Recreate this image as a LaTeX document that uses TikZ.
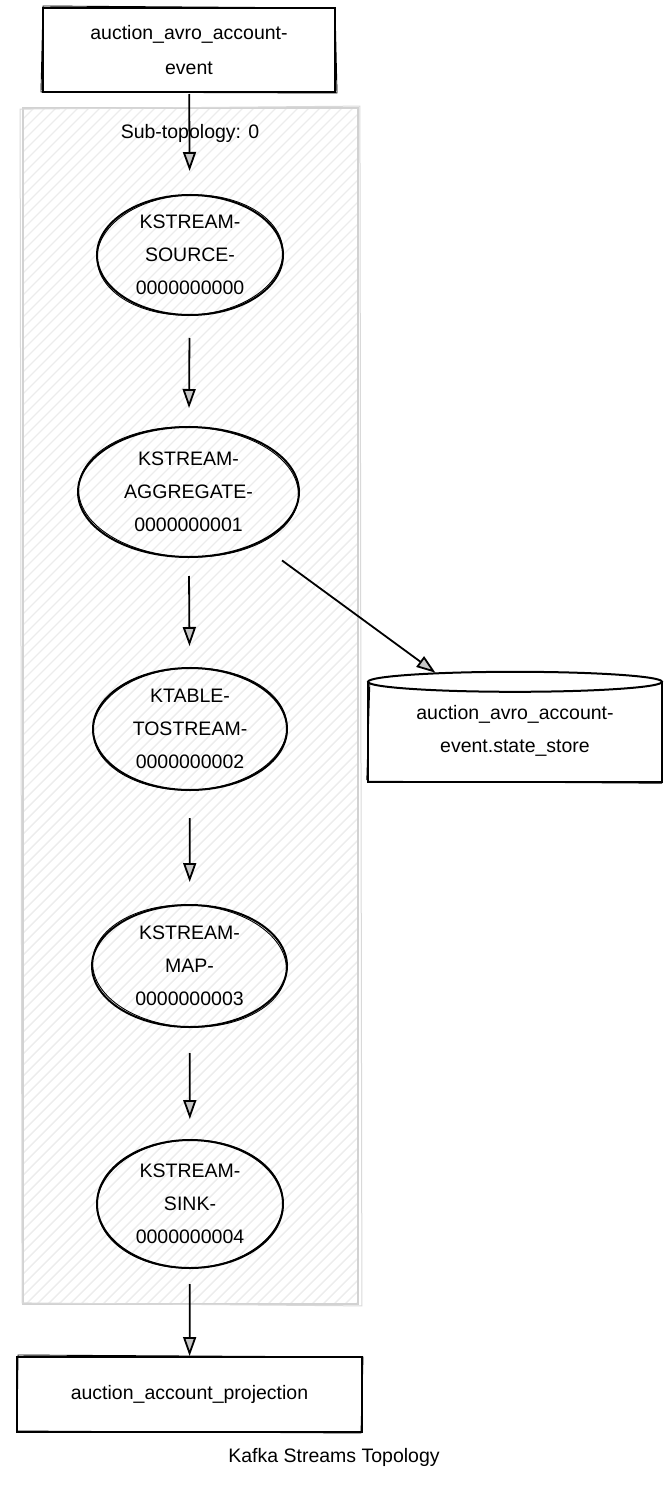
\documentclass[tikz,border=0pt]{standalone}
\usepackage{fontspec}
\setmainfont{Liberation Sans}
\usetikzlibrary{shapes.geometric,arrows.meta,calc}
\begin{document}
\begin{tikzpicture}[x=1pt,y=-1pt,
  every node/.style={font=\fontsize{19.5}{33}\selectfont, align=center},
  ink/.style={line width=2pt, draw=black},
  topic/.style={rectangle, ink, inner sep=0pt},
  proc/.style={ellipse, ink, inner sep=0pt},
  sk/.style={line width=0.9pt, black},
  arr/.style={line width=1.8pt, -{Triangle[length=19pt,width=13pt,fill=gray!45]}},
  hatch/.style={gray!15, line width=1.4pt},
  grp/.style={draw=gray!35, line width=1.8pt, rectangle, inner sep=0pt},
]
\useasboundingbox (0,0) rectangle (668,1488);

% sub-topology group with hatching
\begin{scope}
  \clip (23,108) rectangle (358,1304);
  \foreach \k in {0,...,140} \draw[hatch] (-1173+11*\k,1304) -- ++(1196,-1196);
\end{scope}
\node[grp, minimum width=335pt, minimum height=1196pt] (sub) at (190.5,706) {};
\draw[gray!30, line width=1pt] ($(sub.north west)+(-2,2)$) -- ($(sub.north east)+(1,-1)$)
  -- ($(sub.south east)+(3,1)$) -- ($(sub.south west)+(0,-2)$) -- cycle;
\node (subl) at (190,133) {Sub-topology: 0};

% topics
\node[topic, minimum width=292pt, minimum height=84pt, font=\fontsize{19.5}{35}\selectfont] (srct) at (189,50) {auction\_avro\_account-\\event};
\draw[sk] ($(srct.north west)+(1,-1)$) -- ($(srct.north east)+(-1,1)$) -- ($(srct.south east)+(1,0)$) -- ($(srct.south west)+(-1,-1)$) -- cycle;
\node[topic, minimum width=345pt, minimum height=75pt] (proj) at (189.5,1394.5) {auction\_account\_projection};
\draw[sk] ($(proj.north west)+(2,-1)$) -- ($(proj.north east)+(0,1)$) -- ($(proj.south east)+(-2,0)$) -- ($(proj.south west)+(1,-2)$) -- cycle;

% processors
\node[proc, minimum width=186pt, minimum height=120pt] (src) at (190,255) {KSTREAM-\\SOURCE-\\0000000000};
\node[proc, minimum width=221pt, minimum height=130pt] (agg) at (188.5,492) {KSTREAM-\\AGGREGATE-\\0000000001};
\node[proc, minimum width=194pt, minimum height=122pt] (kt) at (190,729) {KTABLE-\\TOSTREAM-\\0000000002};
\node[proc, minimum width=195pt, minimum height=122pt] (map) at (189.5,966) {KSTREAM-\\MAP-\\0000000003};
\node[proc, minimum width=186pt, minimum height=128pt] (sink) at (190,1204) {KSTREAM-\\SINK-\\0000000004};
\foreach \n/\rx/\ry/\r in {src/93/60/3, agg/110/65/-2, kt/97/61/2, map/97/61/-3, sink/93/64/2}
  \draw[sk] (\n.center) ellipse [x radius=\rx pt, y radius=\ry pt, rotate=\r];

% state store (cylinder)
\node[inner sep=0pt, minimum width=294pt, minimum height=102pt] (store) at (515,731) {auction\_avro\_account-\\event.state\_store};
\draw[ink] ($(store.north west)+(0,2)$) -- (store.south west) -- (store.south east) -- ($(store.north east)+(0,2)$);
\draw[ink] ($(store.north)+(0,2)$) ellipse [x radius=147pt, y radius=10pt];
\draw[sk] ($(store.north west)+(2,4)$) -- ($(store.south west)+(-1,-2)$);
\draw[sk] ($(store.south west)+(0,-1)$) -- ($(store.south east)+(0,1)$);

% connectors
\draw[arr, shorten <=1pt, shorten >=23pt] (srct) -- (src);
\draw[arr, shorten <=22pt, shorten >=18pt] (src) -- (agg);
\draw[arr, shorten <=18pt, shorten >=21pt] (agg) -- (kt);
\draw[arr, shorten <=27pt, shorten >=22pt] (kt) -- (map);
\draw[arr, shorten <=25pt, shorten >=20pt] (map) -- (sink);
\draw[arr, shorten <=15pt, shorten >=0pt] (sink) -- (proj);
\draw[arr, shorten <=29pt, shorten >=12pt] (agg) -- (store);

% caption
\node (cap) at (334,1457) {Kafka Streams Topology};
\end{tikzpicture}
\end{document}
